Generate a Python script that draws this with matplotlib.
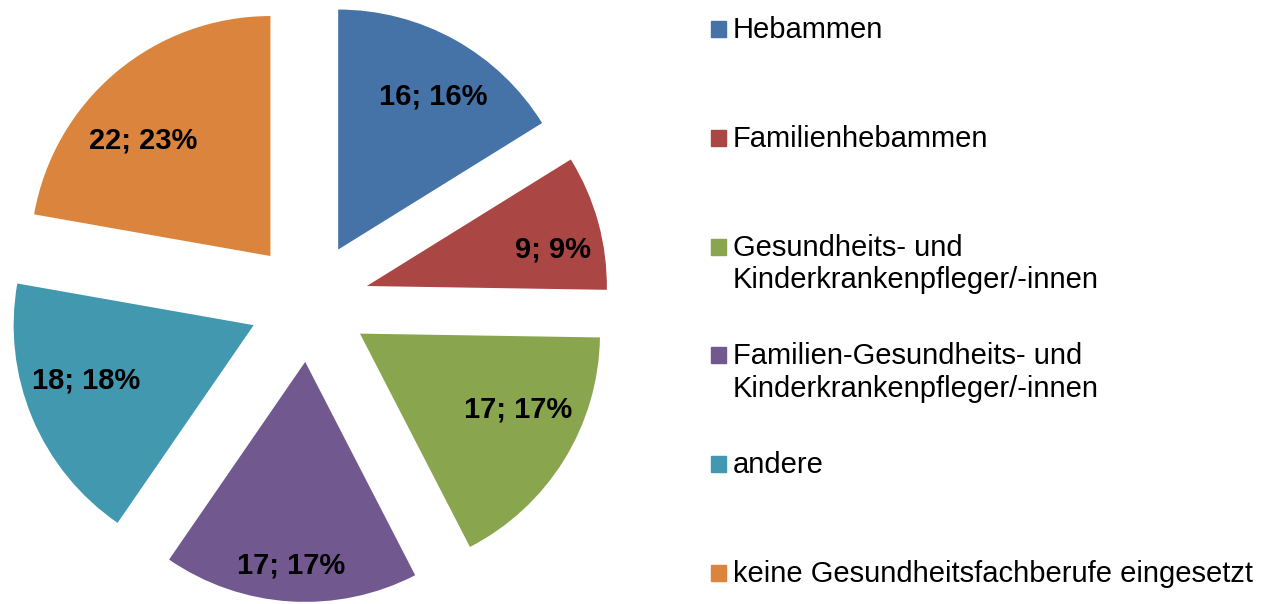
import numpy as np
import matplotlib.pyplot as plt
from matplotlib.patches import Rectangle

plt.rcParams['font.family'] = ['Liberation Sans', 'DejaVu Sans']

# Daten
kategorien = ['Hebammen', 'Familienhebammen',
              'Gesundheits- und\nKinderkrankenpfleger/-innen',
              'Familien-Gesundheits- und\nKinderkrankenpfleger/-innen',
              'andere', 'keine Gesundheitsfachberufe eingesetzt']
werte = [16, 9, 17, 17, 18, 22]
prozent = ['16%', '9%', '17%', '17%', '18%', '23%']
farben = ['#4572A7', '#AA4643', '#89A54E', '#71588F', '#4198AF', '#DB843D']
# Lage der Beschriftung: Abstand (Anteil des Radius) und Winkelversatz (Grad)
abstand = [0.75, 0.79, 0.73, 0.85, 0.735, 0.715]
versatz = [-2.9, -4.2, 6.2, -0.4, -4.6, 7.9]

W, H = 1269, 604
cx, cy, r = 309, 302, 240

fig = plt.figure(figsize=(W / 100, H / 100), dpi=100)
ax = fig.add_axes([0, 0, 1, 1])

wedges, texts = ax.pie(werte, colors=farben, startangle=90, counterclock=False,
                       explode=[0.25] * len(werte), radius=1)

for w, wert, p, d, dv in zip(wedges, werte, prozent, abstand, versatz):
    th = np.deg2rad((w.theta1 + w.theta2) / 2 + dv)
    x = w.center[0] + d * np.cos(th)
    y = w.center[1] + d * np.sin(th)
    ax.text(x, y, f'{wert}; {p}', ha='center', va='center',
            fontsize=21, fontweight='bold', color='black')

ax.set_xlim(-cx / r, (W - cx) / r)
ax.set_ylim(-(H - cy) / r, cy / r)
ax.axis('off')

# Legende
y0, dy = 29, 108.8
for i, (kat, f) in enumerate(zip(kategorien, farben)):
    yp = y0 + i * dy
    fig.patches.append(Rectangle((711 / W, 1 - (yp + 8) / H), 15 / W, 16 / H,
                                 transform=fig.transFigure, color=f))
    fig.text(733 / W, 1 - (yp - 13) / H, kat, fontsize=21, va='top',
             ha='left', linespacing=1.2)

fig.savefig('out.png', dpi=100)
